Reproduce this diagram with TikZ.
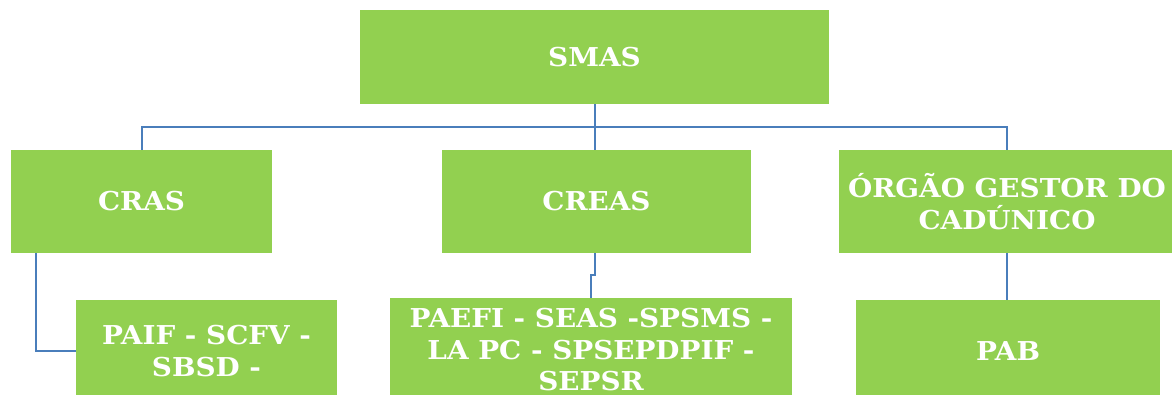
\documentclass[tikz,border=0pt]{standalone}
\usepackage{fontspec}
\setmainfont{DejaVu Serif}[FakeStretch=1.07]
\definecolor{boxgreen}{HTML}{92D050}
\definecolor{lineblue}{HTML}{4A7EBB}
\tikzset{
  orgbox/.style={fill=boxgreen, draw=none, inner sep=0pt, align=center,
    text=white, font=\fontsize{26}{31.5}\selectfont\bfseries},
  link/.style={draw=lineblue, line width=2pt}
}
\begin{document}
\begin{tikzpicture}[x=1pt,y=-1pt]
\useasboundingbox (0,0) rectangle (1172,395);
\clip (0,0) rectangle (1172,395);
\fill[white] (0,0) rectangle (1172,395);
% boxes
\node[orgbox, minimum width=469pt, minimum height=94pt] (smas) at (594.5,57) {SMAS};
\node[orgbox, minimum width=261pt, minimum height=103pt] (cras) at (141.5,201.5) {CRAS};
\node[orgbox, minimum width=309pt, minimum height=103pt] (creas) at (596.5,201.5) {CREAS};
\node[orgbox, minimum width=336pt, minimum height=103pt] (orgao) at (1007,201.5) {ÓRGÃO GESTOR DO\\CADÚNICO};
\node[orgbox, minimum width=261pt, minimum height=102pt] (paif) at (206.5,351) {PAIF - SCFV -\\SBSD -};
\node[orgbox, minimum width=402pt, minimum height=104pt] (paefi) at (591,350) {PAEFI - SEAS -SPSMS -\\LA PC - SPSEPDPIF -\\SEPSR};
\node[orgbox, minimum width=304pt, minimum height=102pt] (pab) at (1008,351) {PAB};
% connectors
\coordinate (bus) at (594.5,127);
\draw[link] (smas.south) -- (bus);
\draw[link] (cras.north) |- (bus);
\draw[link] (orgao.north) |- (bus);
\draw[link] (bus) -- (bus |- creas.north);
\draw[link] ([xshift=25pt]cras.south west) |- (paif.west);
\draw[link] ([xshift=-1.5pt]creas.south) -- ++(0,22) -| (paefi.north);
\draw[link] (orgao.south) -- (orgao.south |- pab.north);
\end{tikzpicture}
\end{document}
